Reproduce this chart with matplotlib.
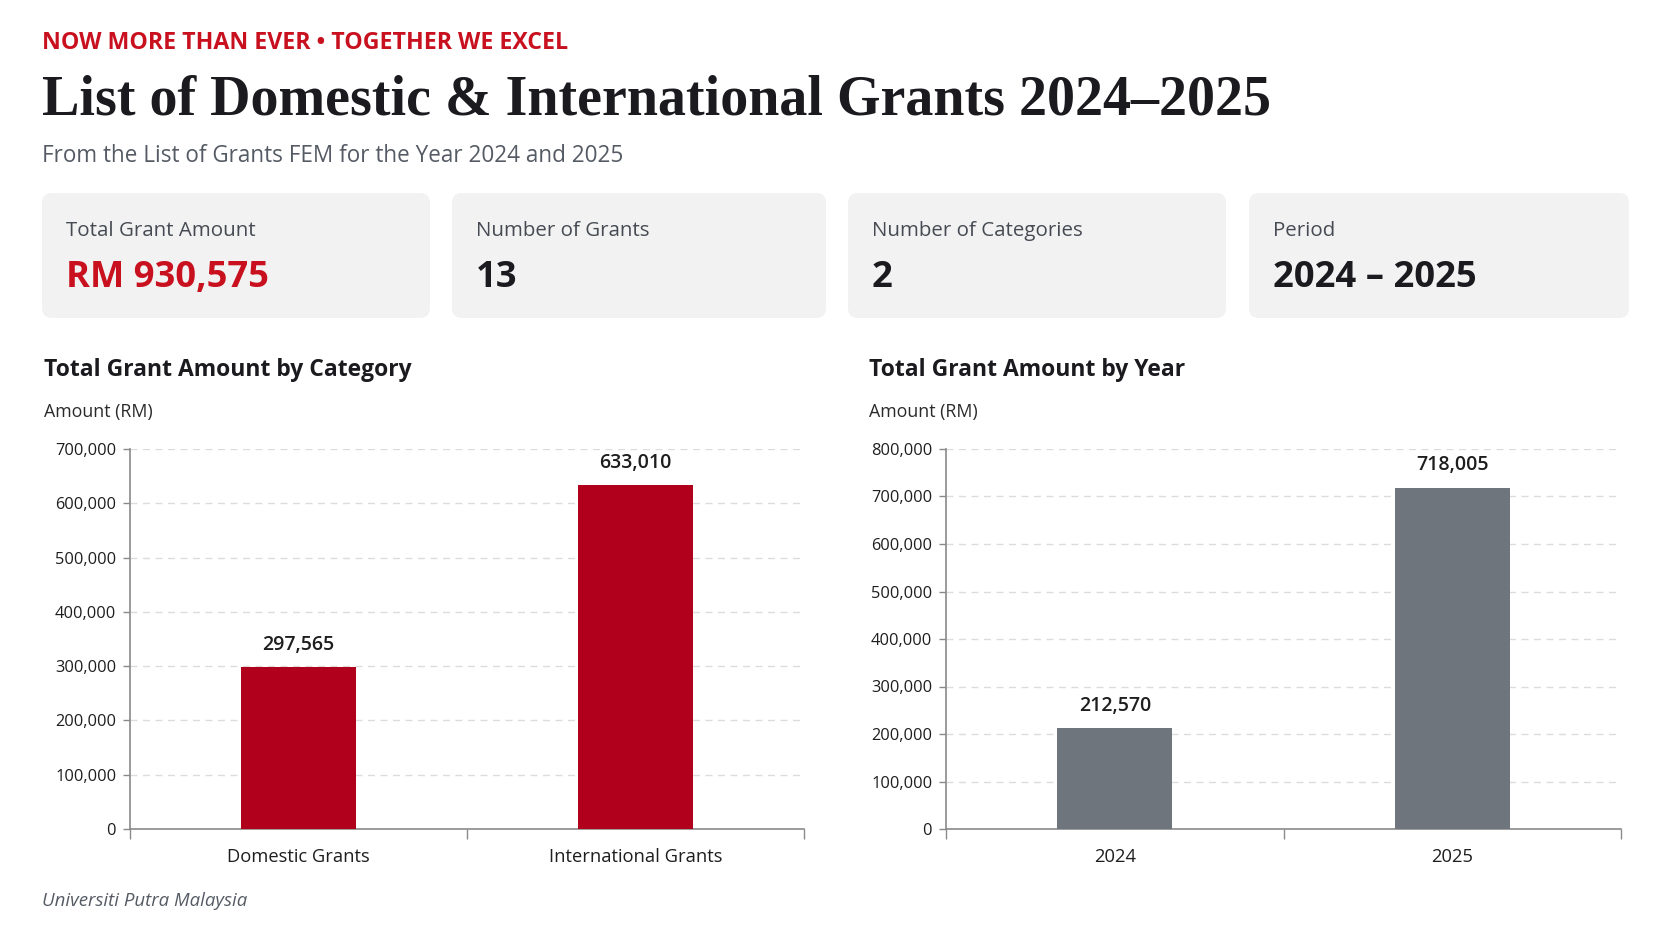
import matplotlib
matplotlib.use("Agg")
import matplotlib.pyplot as plt
from matplotlib.patches import FancyBboxPatch
from matplotlib.ticker import FuncFormatter, FixedLocator

# ---------------- data ----------------
categories = ["Domestic Grants", "International Grants"]
category_amounts = [297565, 633010]
years = ["2024", "2025"]
year_amounts = [212570, 718005]
kpi_labels = ["Total Grant Amount", "Number of Grants", "Number of Categories", "Period"]
kpi_values = ["RM 930,575", "13", "2", "2024 \u2013 2025"]
left_yticks = [0, 100000, 200000, 300000, 400000, 500000, 600000, 700000]
right_yticks = [0, 100000, 200000, 300000, 400000, 500000, 600000, 700000, 800000]

# ---------------- style ----------------
W, H = 1672, 941
SANS = ["Open Sans", "DejaVu Sans"]
SERIF = ["Liberation Serif", "DejaVu Serif"]
RED_TXT = "#C8101E"
RED_BAR = "#B0001C"
GRAY_BAR = "#6E757C"
DARK = "#1B1B1F"
MID = "#555B64"
CARD = "#F2F2F2"

plt.rcParams["font.family"] = SANS

fig = plt.figure(figsize=(W / 100, H / 100), dpi=100)
fig.patch.set_facecolor("white")

bg = fig.add_axes([0, 0, 1, 1], zorder=0)
bg.set_xlim(0, W)
bg.set_ylim(H, 0)
bg.axis("off")

renderer = fig.canvas.get_renderer()


def fit(t, target):
    bb = t.get_window_extent(renderer)
    t.set_fontsize(t.get_fontsize() * target / bb.width)
    return t.get_fontsize()


# header
t_eye = bg.text(42, 43, "NOW MORE THAN EVER \u2022 TOGETHER WE EXCEL", color=RED_TXT,
                fontsize=14, fontweight="bold", va="center", ha="left")
fit(t_eye, 525)
t_title = bg.text(42, 100, "List of Domestic & International Grants 2024\u20132025", color=DARK,
                  fontsize=40, fontweight="bold", family=SERIF, va="center", ha="left")
fit(t_title, 1228)
t_sub = bg.text(42, 156, "From the List of Grants FEM for the Year 2024 and 2025", color=MID,
                fontsize=15, va="center", ha="left")
fit(t_sub, 582)

# KPI cards
card_x = [(42, 430), (452, 826), (848, 1226), (1249, 1629)]
card_y = (193, 318)
lab_texts, val_texts = [], []
for (x0, x1), lab, val in zip(card_x, kpi_labels, kpi_values):
    p = FancyBboxPatch((x0, card_y[0]), x1 - x0, card_y[1] - card_y[0],
                       boxstyle="round,pad=0,rounding_size=10",
                       facecolor=CARD, edgecolor="none")
    bg.add_patch(p)
    lab_texts.append(bg.text(x0 + 24, 231, lab, color="#464B53", fontsize=14,
                             va="center", ha="left"))
    val_texts.append(bg.text(x0 + 24, 278, val, color=RED_TXT if val.startswith("RM") else DARK,
                             fontsize=24, fontweight="bold", va="center", ha="left"))
ls = fit(lab_texts[0], 190)
vs = fit(val_texts[0], 203)
for t in lab_texts:
    t.set_fontsize(ls)
for t in val_texts:
    t.set_fontsize(vs)

# section titles
s1 = bg.text(44, 370, "Total Grant Amount by Category", color=DARK, fontsize=16,
             fontweight="bold", va="center", ha="left")
ss = fit(s1, 367)
bg.text(869, 370, "Total Grant Amount by Year", color=DARK, fontsize=ss,
        fontweight="bold", va="center", ha="left")
a1 = bg.text(44, 412, "Amount (RM)", color="#2A2A2A", fontsize=12, va="center", ha="left")
asz = fit(a1, 108)
bg.text(869, 412, "Amount (RM)", color="#2A2A2A", fontsize=asz, va="center", ha="left")

ft = bg.text(42, 901, "Universiti Putra Malaysia", color=MID, fontsize=13, style="italic",
             va="center", ha="left")
fit(ft, 204)


def style_axes(ax, cats, vals, color, yticks):
    x = list(range(len(cats)))
    ax.bar(x, vals, width=0.34, color=color, zorder=3)
    ax.set_xlim(-0.5, len(cats) - 0.5)
    ax.set_ylim(yticks[0], yticks[-1])
    ax.yaxis.set_major_locator(FixedLocator(yticks))
    ax.yaxis.set_major_formatter(FuncFormatter(lambda v, p: f"{int(v):,}"))
    ax.set_xticks(x)
    ax.set_xticklabels(cats)
    ax.set_xticks([i - 0.5 for i in range(len(cats) + 1)], minor=True)
    ax.tick_params(axis="x", which="major", length=0, pad=14, labelsize=13.2, labelcolor="#1E1E1E")
    ax.tick_params(axis="x", which="minor", length=7, width=1, color="#8A8A8A")
    ax.tick_params(axis="y", length=5, width=1, color="#8A8A8A", pad=5,
                   labelsize=11.8, labelcolor="#1E1E1E")
    ax.grid(axis="y", linestyle=(0, (5, 4)), color="#DCDCDC", linewidth=1, zorder=0)
    for s in ["top", "right"]:
        ax.spines[s].set_visible(False)
    for s in ["left", "bottom"]:
        ax.spines[s].set_color("#8A8A8A")
        ax.spines[s].set_linewidth(1.2)
    ax.set_facecolor("none")
    for xi, v in zip(x, vals):
        ax.annotate(f"{v:,}", (xi, v), xytext=(0, 9), textcoords="offset points",
                    ha="center", va="bottom", fontsize=14, fontweight="semibold",
                    color="#1E1E1E", zorder=4)


ax1 = fig.add_axes([130 / W, 112 / H, 674 / W, 380 / H], zorder=2)
style_axes(ax1, categories, category_amounts, RED_BAR, left_yticks)
ax2 = fig.add_axes([946 / W, 112 / H, 675 / W, 380 / H], zorder=2)
style_axes(ax2, years, year_amounts, GRAY_BAR, right_yticks)

fig.savefig("out.png", dpi=100, facecolor=fig.get_facecolor())
